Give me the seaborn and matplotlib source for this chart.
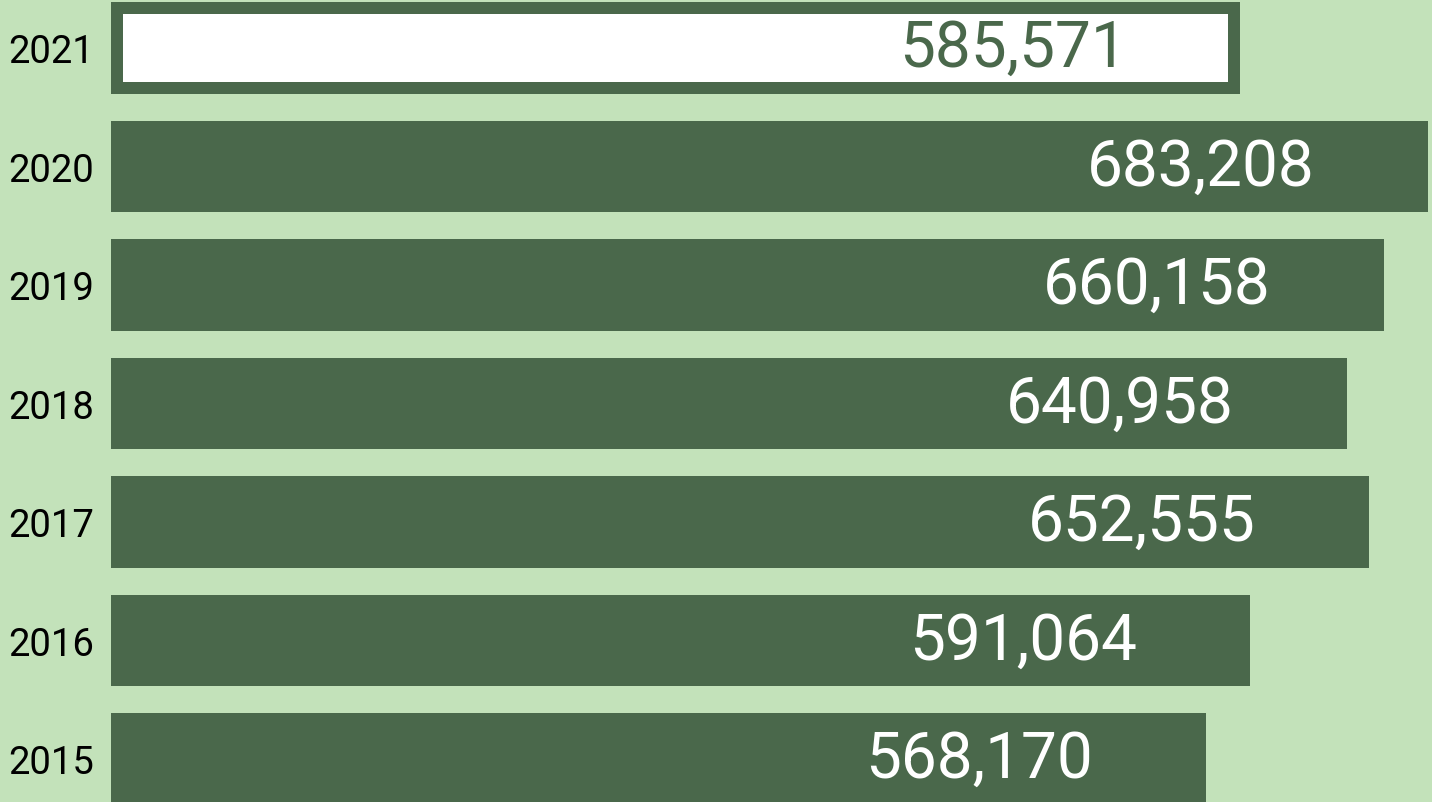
import matplotlib
matplotlib.use('Agg')
import matplotlib.pyplot as plt
import pandas as pd
import seaborn as sns

sns.set_style('white')
plt.rcParams['font.family'] = ['Roboto', 'DejaVu Sans']

# ── Data ──────────────────────────────────────────────────────────────────────
years  = ['2021', '2020', '2019', '2018', '2017', '2016', '2015']
values = [585571, 683208, 660158, 640958, 652555, 591064, 568170]

BG    = '#c3e2ba'
GREEN = '#4a684b'

df = pd.DataFrame({'year': years, 'value': values})

fig = plt.figure(figsize=(14.32, 8.03), dpi=100, facecolor=BG)
ax = fig.add_axes([111 / 1432, 0, 1 - 111 / 1432, 1])
ax.set_facecolor(BG)

sns.barplot(data=df, x='value', y='year', orient='h', order=years,
            color=GREEN, saturation=1, width=0.776, ax=ax)

for p in ax.patches:
    p.set_edgecolor('none')
    p.set_linewidth(0)

# highlight the current year: white fill with an inner green frame
hl = ax.patches[0]
hl.set_facecolor('white')
hl.set_edgecolor(GREEN)
hl.set_linewidth(24 * 72 / 100)
hl.set_clip_path(hl)

ax.set_xlim(0, 685283)
ax.set_ylim(6.363, -0.4135)

for i, (yr, v) in enumerate(zip(years, values)):
    col = GREEN if i == 0 else 'white'
    ax.annotate(f'{v:,}', xy=(v, i), xytext=(-113, 0), textcoords='offset pixels',
                ha='right', va='center', fontsize=46, color=col)

ax.set_xlabel('')
ax.set_ylabel('')
ax.set_xticks([])
ax.tick_params(axis='y', length=0, pad=12, labelsize=27.5, labelcolor='black')
sns.despine(ax=ax, left=True, bottom=True)

fig.savefig('out.png', dpi=100, facecolor=BG)
